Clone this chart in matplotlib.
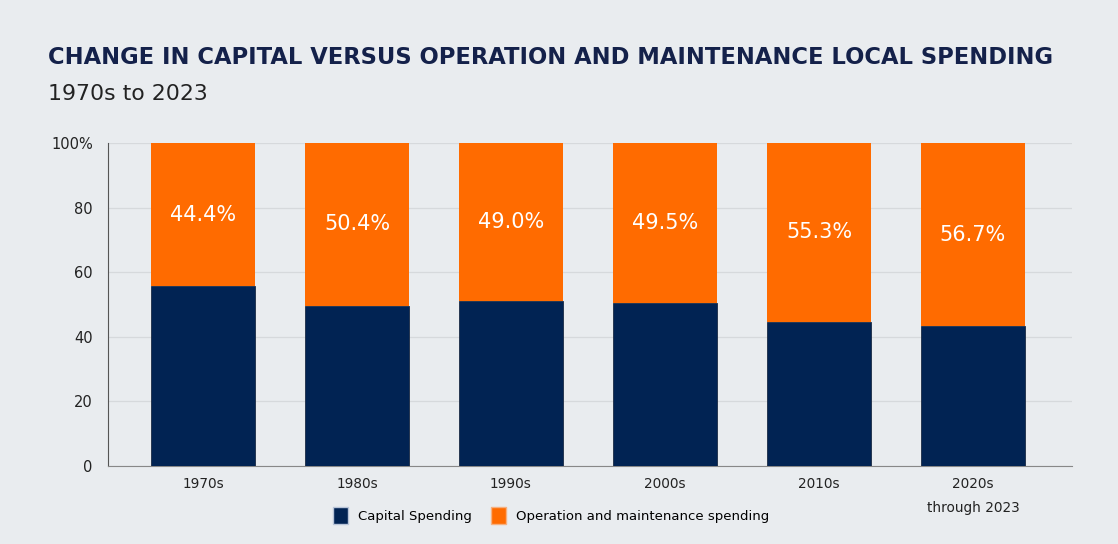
import numpy as np
import matplotlib.pyplot as plt
from matplotlib.patches import Patch

# Data
decades = ['1970s', '1980s', '1990s', '2000s', '2010s', '2020s\nthrough 2023']
om_share = [44.4, 50.4, 49.0, 49.5, 55.3, 56.7]  # operation & maintenance (%)
capital_share = [100 - v for v in om_share]      # capital spending (%)

bg = '#e9ecef'
navy = '#012353'
orange = '#ff6b00'

fig = plt.figure(figsize=(11.18, 5.44), dpi=100, facecolor=bg)
ax = fig.add_axes([0.0966, 0.1434, 0.8622, 0.5937], facecolor=bg)

x = np.arange(len(decades))
ax.bar(x, capital_share, width=0.68, color=navy, edgecolor='#1a2a44', linewidth=0.6,
       label='Capital Spending', zorder=3)
ax.bar(x, om_share, width=0.68, bottom=capital_share, color=orange,
       label='Operation and maintenance spending', zorder=3)

for xi, c, o in zip(x, capital_share, om_share):
    ax.text(xi, c + o / 2, f'{o:.1f}%', ha='center', va='center',
            color='white', fontsize=15, zorder=4)

ax.set_xlim(-0.617, 5.643)
ax.set_ylim(0, 100)
ax.set_yticks([0, 20, 40, 60, 80, 100])
ax.set_yticklabels(['0', '20', '40', '60', '80', '100%'])
ax.set_xticks(x)
ax.set_xticklabels(decades, linespacing=1.9)
ax.tick_params(axis='y', length=0, pad=11, labelsize=10.5, labelcolor='#222222')
ax.tick_params(axis='x', length=0, pad=8, labelsize=9.8, labelcolor='#222222')
ax.grid(axis='y', color='#d6d9dc', linewidth=0.9, zorder=0)

for s in ['top', 'right']:
    ax.spines[s].set_visible(False)
ax.spines['left'].set_color('#555555')
ax.spines['bottom'].set_color('#888888')

fig.text(0.043, 0.895, 'CHANGE IN CAPITAL VERSUS OPERATION AND MAINTENANCE LOCAL SPENDING',
         fontsize=16.3, fontweight='bold', color='#14214a', va='center')
fig.text(0.043, 0.828, '1970s to 2023', fontsize=15.8, color='#222222', va='center')

handles = [Patch(facecolor=navy, edgecolor='#b8c4d8'), Patch(facecolor=orange, edgecolor='#f5b080')]
fig.legend(handles, ['Capital Spending', 'Operation and maintenance spending'],
           loc='center', bbox_to_anchor=(0.493, 0.052), ncol=2, frameon=False,
           fontsize=9.5, handlelength=1.15, handleheight=1.6, handletextpad=0.8,
           columnspacing=1.4)

fig.savefig('out.png', dpi=100, facecolor=bg)
